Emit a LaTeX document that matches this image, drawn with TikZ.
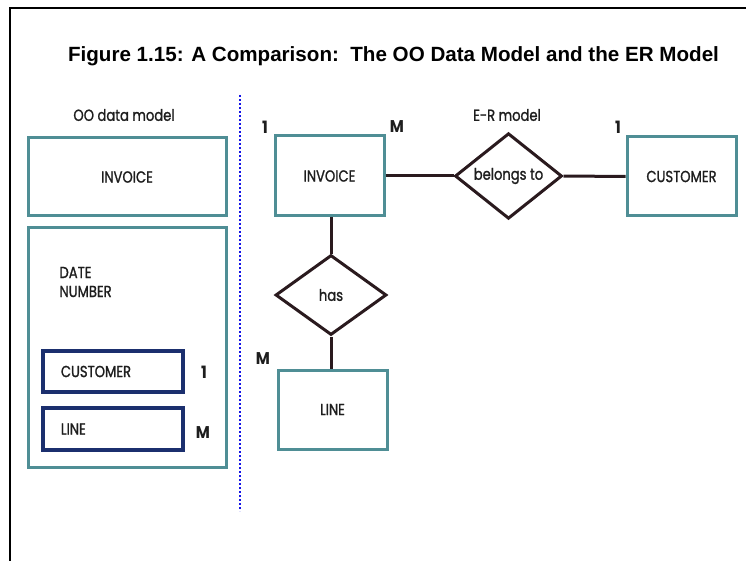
\documentclass[tikz,border=0pt]{standalone}
\usepackage{fontspec}
\setmainfont{Liberation Sans}
\newfontfamily\lblfont[FakeStretch=0.82, FakeBold=1.2]{Poppins}
\newfontfamily\cardfont[FakeStretch=0.9]{Poppins}
\usetikzlibrary{shapes.geometric}
\definecolor{tealbox}{HTML}{4F8E95}
\definecolor{navybox}{HTML}{1B2F6E}
\definecolor{linkcol}{HTML}{2A1A1E}
\definecolor{dotblue}{HTML}{1414E6}
\definecolor{inktext}{HTML}{1E1E1E}
\tikzset{
  lbl/.style={font=\lblfont\fontsize{16}{19}\selectfont, text=inktext},
  entity/.style={lbl, draw=tealbox, line width=3pt, fill=white, inner sep=0pt},
  attrbox/.style={lbl, draw=navybox, line width=3.2pt, fill=white, inner sep=0pt,
    minimum width=140pt},
  relation/.style={lbl, diamond, draw=linkcol, line width=3pt, fill=white, inner sep=0pt},
  link/.style={draw=linkcol, line width=3pt},
  card/.style={font=\cardfont\bfseries\fontsize{17}{19}\selectfont, text=inktext},
}
\begin{document}
\begin{tikzpicture}[x=1pt, y=-1pt]
\useasboundingbox (0,0) rectangle (746,561);
% outer frame
\draw[line width=2.5pt] (10,575) -- (10,8) -- (760,8);
% title
\node[font=\bfseries\fontsize{20.6}{24}\selectfont, anchor=base] (title) at (393.5,62)
  {Figure 1.15: A Comparison:\ \ The OO Data Model and the ER Model};
% divider
\draw[dotblue, line width=2pt, dash pattern=on 2pt off 2pt] (240,95) -- (240,511);

% object-oriented side
\node[lbl] (oocap) at (124,115) {OO data model};
\node[entity, minimum width=198pt, minimum height=78pt] (ooinv) at (127,177) {INVOICE};
\node[entity, minimum width=198pt, minimum height=239pt] (oobody) at (127,347.5) {};
\node[lbl, anchor=west, align=left] (attrs) at (56,282) {DATE\\NUMBER};
\node[attrbox, minimum height=41pt] (oocust) at (113,371.5) {};
\node[lbl, anchor=west] (oocusttxt) at (oocust.west) [xshift=16pt] {CUSTOMER};
\node[attrbox, minimum height=42pt] (ooline) at (113,429) {};
\node[lbl, anchor=west] (oolinetxt) at (ooline.west) [xshift=16pt] {LINE};
\node[card] (c1) at (204,372) {1};
\node[card] (cm) at (203,433) {M};

% entity-relationship side
\node[lbl] (ercap) at (507,115) {E-R model};
\node[entity, minimum width=109pt, minimum height=80pt] (inv) at (329.5,176) {INVOICE};
\node[relation, minimum width=107pt, minimum height=84pt] (belongs) at (508.5,176) {belongs to};
\node[entity, minimum width=109pt, minimum height=79pt] (cust) at (681.5,176.5) {CUSTOMER};
\node[relation, minimum width=111pt, minimum height=80pt] (has) at (331,295) {has};
\node[entity, minimum width=109pt, minimum height=79pt] (line) at (332.5,409.5) {LINE};

\draw[link] (inv.east) -- (belongs.west);
\draw[link] (belongs.east) -- (cust.west);
\draw[link] (inv.south -| has.north) -- (has.north);
\draw[link] (has.south) -- (has.south |- line.north);

\node[card] (k1) at (265,127) {1};
\node[card] (k2) at (397,127) {M};
\node[card] (k3) at (618,127) {1};
\node[card] (k4) at (263,359) {M};
\end{tikzpicture}
\end{document}
